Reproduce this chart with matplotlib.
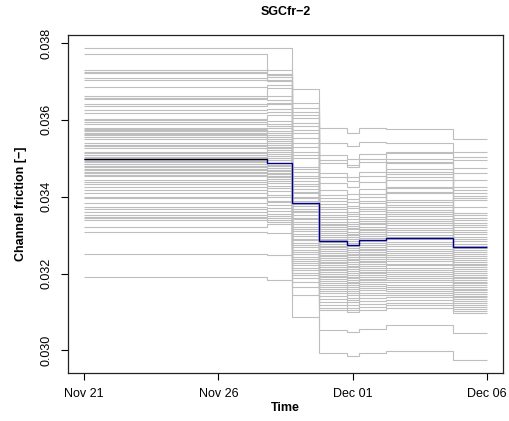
import datetime as dt
import numpy as np
import matplotlib
matplotlib.use("Agg")
import matplotlib.pyplot as plt
import matplotlib.dates as mdates

plt.rcParams["font.family"] = ["Liberation Sans", "DejaVu Sans"]

# segment edges, days after Nov 21
edge_days = [0, 6.8, 7.75, 8.75, 9.8, 10.25, 11.25, 13.75, 15]

# ensemble members, sorted high -> low, one list per time segment
seg1 = [0.03788, 0.03771, 0.03729, 0.03725, 0.03721, 0.03710, 0.03705, 0.03686, 0.03662, 0.03658,
        0.03655, 0.03641, 0.03636, 0.03625, 0.03617, 0.03603, 0.03599, 0.03595, 0.03589, 0.03580,
        0.03577, 0.03573, 0.03570, 0.03567, 0.03563, 0.03560, 0.03556, 0.03549, 0.03539, 0.03535,
        0.03531, 0.03527, 0.03517, 0.03513, 0.03509, 0.03504, 0.03493, 0.03489, 0.03485, 0.03481,
        0.03477, 0.03473, 0.03469, 0.03465, 0.03461, 0.03457, 0.03453, 0.03443, 0.03438, 0.03434,
        0.03426, 0.03417, 0.03409, 0.03400, 0.03396, 0.03383, 0.03374, 0.03367, 0.03361, 0.03352,
        0.03348, 0.03344, 0.03339, 0.03321, 0.03309, 0.03250, 0.03190]
seg2 = [0.03788, 0.03731, 0.03720, 0.03716, 0.03711, 0.03705, 0.03700, 0.03690, 0.03682, 0.03663,
        0.03652, 0.03645, 0.03640, 0.03628, 0.03621, 0.03612, 0.03597, 0.03590, 0.03585, 0.03578,
        0.03570, 0.03566, 0.03560, 0.03555, 0.03549, 0.03545, 0.03540, 0.03535, 0.03530, 0.03526,
        0.03521, 0.03516, 0.03511, 0.03505, 0.03500, 0.03496, 0.03483, 0.03479, 0.03475, 0.03470,
        0.03466, 0.03462, 0.03458, 0.03454, 0.03450, 0.03446, 0.03441, 0.03436, 0.03428, 0.03422,
        0.03414, 0.03405, 0.03398, 0.03390, 0.03385, 0.03379, 0.03370, 0.03362, 0.03356, 0.03350,
        0.03345, 0.03340, 0.03335, 0.03330, 0.03305, 0.03247, 0.03184]
seg3 = [0.03680, 0.03644, 0.03632, 0.03621, 0.03612, 0.03604, 0.03591, 0.03583, 0.03573, 0.03565,
        0.03552, 0.03539, 0.03530, 0.03517, 0.03509, 0.03500, 0.03478, 0.03471, 0.03463, 0.03454,
        0.03449, 0.03440, 0.03433, 0.03429, 0.03420, 0.03413, 0.03409, 0.03400, 0.03396, 0.03388,
        0.03381, 0.03377, 0.03369, 0.03363, 0.03359, 0.03351, 0.03345, 0.03341, 0.03333, 0.03328,
        0.03322, 0.03315, 0.03311, 0.03303, 0.03298, 0.03291, 0.03287, 0.03280, 0.03273, 0.03269,
        0.03262, 0.03257, 0.03250, 0.03244, 0.03239, 0.03232, 0.03228, 0.03221, 0.03215, 0.03208,
        0.03202, 0.03196, 0.03189, 0.03178, 0.03166, 0.03145, 0.03087]
seg4 = [0.03578, 0.03540, 0.03508, 0.03495, 0.03487, 0.03461, 0.03452, 0.03435, 0.03417, 0.03405,
        0.03396, 0.03388, 0.03381, 0.03372, 0.03367, 0.03360, 0.03352, 0.03346, 0.03341, 0.03335,
        0.03330, 0.03326, 0.03320, 0.03315, 0.03311, 0.03305, 0.03301, 0.03296, 0.03290, 0.03286,
        0.03282, 0.03277, 0.03272, 0.03268, 0.03263, 0.03259, 0.03254, 0.03249, 0.03245, 0.03240,
        0.03236, 0.03231, 0.03227, 0.03222, 0.03217, 0.03213, 0.03208, 0.03203, 0.03199, 0.03194,
        0.03190, 0.03185, 0.03180, 0.03175, 0.03170, 0.03165, 0.03160, 0.03154, 0.03148, 0.03141,
        0.03134, 0.03126, 0.03118, 0.03111, 0.03104, 0.03054, 0.02993]
seg5 = [0.03566, 0.03532, 0.03497, 0.03483, 0.03476, 0.03450, 0.03441, 0.03424, 0.03406, 0.03394,
        0.03385, 0.03377, 0.03370, 0.03361, 0.03356, 0.03349, 0.03341, 0.03335, 0.03330, 0.03324,
        0.03319, 0.03315, 0.03309, 0.03304, 0.03300, 0.03294, 0.03290, 0.03285, 0.03279, 0.03275,
        0.03271, 0.03266, 0.03261, 0.03257, 0.03252, 0.03248, 0.03243, 0.03238, 0.03234, 0.03229,
        0.03225, 0.03220, 0.03216, 0.03211, 0.03206, 0.03202, 0.03197, 0.03192, 0.03188, 0.03183,
        0.03179, 0.03174, 0.03169, 0.03164, 0.03159, 0.03154, 0.03149, 0.03143, 0.03137, 0.03131,
        0.03125, 0.03118, 0.03111, 0.03105, 0.03099, 0.03047, 0.02984]
seg6 = [0.03578, 0.03543, 0.03510, 0.03497, 0.03489, 0.03463, 0.03454, 0.03437, 0.03419, 0.03407,
        0.03398, 0.03390, 0.03383, 0.03374, 0.03369, 0.03362, 0.03354, 0.03348, 0.03343, 0.03337,
        0.03332, 0.03328, 0.03322, 0.03317, 0.03313, 0.03307, 0.03303, 0.03298, 0.03292, 0.03288,
        0.03284, 0.03279, 0.03274, 0.03270, 0.03265, 0.03261, 0.03256, 0.03251, 0.03247, 0.03242,
        0.03238, 0.03233, 0.03229, 0.03224, 0.03219, 0.03215, 0.03210, 0.03205, 0.03201, 0.03196,
        0.03192, 0.03187, 0.03182, 0.03177, 0.03172, 0.03167, 0.03162, 0.03156, 0.03150, 0.03143,
        0.03136, 0.03128, 0.03120, 0.03113, 0.03106, 0.03056, 0.02993]
seg7 = [0.03576, 0.03540, 0.03517, 0.03513, 0.03497, 0.03491, 0.03487, 0.03471, 0.03465, 0.03459,
        0.03452, 0.03443, 0.03426, 0.03422, 0.03413, 0.03409, 0.03391, 0.03385, 0.03378, 0.03372,
        0.03366, 0.03361, 0.03355, 0.03349, 0.03343, 0.03337, 0.03331, 0.03325, 0.03319, 0.03313,
        0.03307, 0.03301, 0.03295, 0.03289, 0.03283, 0.03277, 0.03271, 0.03265, 0.03259, 0.03254,
        0.03248, 0.03243, 0.03237, 0.03232, 0.03226, 0.03221, 0.03215, 0.03210, 0.03204, 0.03199,
        0.03193, 0.03188, 0.03182, 0.03177, 0.03171, 0.03166, 0.03160, 0.03155, 0.03149, 0.03144,
        0.03138, 0.03131, 0.03124, 0.03117, 0.03110, 0.03067, 0.02999]
seg8 = [0.03550, 0.03517, 0.03504, 0.03495, 0.03474, 0.03461, 0.03443, 0.03426, 0.03418, 0.03410,
        0.03402, 0.03396, 0.03391, 0.03374, 0.03357, 0.03352, 0.03344, 0.03338, 0.03332, 0.03326,
        0.03320, 0.03314, 0.03308, 0.03302, 0.03296, 0.03290, 0.03284, 0.03278, 0.03272, 0.03266,
        0.03261, 0.03256, 0.03251, 0.03246, 0.03241, 0.03236, 0.03231, 0.03226, 0.03221, 0.03216,
        0.03211, 0.03206, 0.03202, 0.03197, 0.03192, 0.03188, 0.03183, 0.03178, 0.03174, 0.03169,
        0.03165, 0.03160, 0.03156, 0.03151, 0.03147, 0.03142, 0.03138, 0.03133, 0.03128, 0.03123,
        0.03118, 0.03113, 0.03108, 0.03103, 0.03098, 0.03045, 0.02974]

# ensemble mean per segment
mean_vals = [0.03497, 0.03488, 0.03384, 0.03285, 0.03275, 0.03287, 0.03292, 0.03270]

tick_dates = [dt.datetime(2013, 11, 21), dt.datetime(2013, 11, 26),
              dt.datetime(2013, 12, 1), dt.datetime(2013, 12, 6)]
start = mdates.date2num(dt.datetime(2013, 11, 21))
edges = start + np.array(edge_days)

members = np.array([seg1, seg2, seg3, seg4, seg5, seg6, seg7, seg8]).T

fig = plt.figure(figsize=(5.09, 4.21), dpi=100)
ax = fig.add_axes([0.1336, 0.114, 0.8544, 0.803])

for m in members:
    ax.stairs(m, edges, baseline=None, color="#bebebe", lw=0.8)

ax.stairs(mean_vals, edges, baseline=None, color="#00008b", lw=1.0)
ax.stairs(mean_vals[:1], edges[:2], baseline=None, color="black", lw=1.0)

ax.set_xlim(start - 0.6, start + 15.6)
ax.set_ylim(0.02941, 0.03821)
ax.set_xticks(mdates.date2num(tick_dates))
ax.xaxis.set_major_formatter(mdates.DateFormatter("%b %d"))
ax.set_yticks([0.030, 0.032, 0.034, 0.036, 0.038])
ax.set_yticklabels(["0.030", "0.032", "0.034", "0.036", "0.038"],
                   rotation=90, va="center")

ax.tick_params(length=5, width=0.8, labelsize=9, pad=6)
for s in ax.spines.values():
    s.set_linewidth(0.9)
    s.set_color("#222222")

ax.set_title("SGCfr\u22122", fontsize=9, fontweight="bold", pad=14)
ax.set_xlabel("Time", fontsize=9, fontweight="bold", labelpad=1)
ax.set_ylabel("Channel friction [\u2212]", fontsize=9, fontweight="bold", labelpad=10)

fig.savefig("out.png", dpi=100)
